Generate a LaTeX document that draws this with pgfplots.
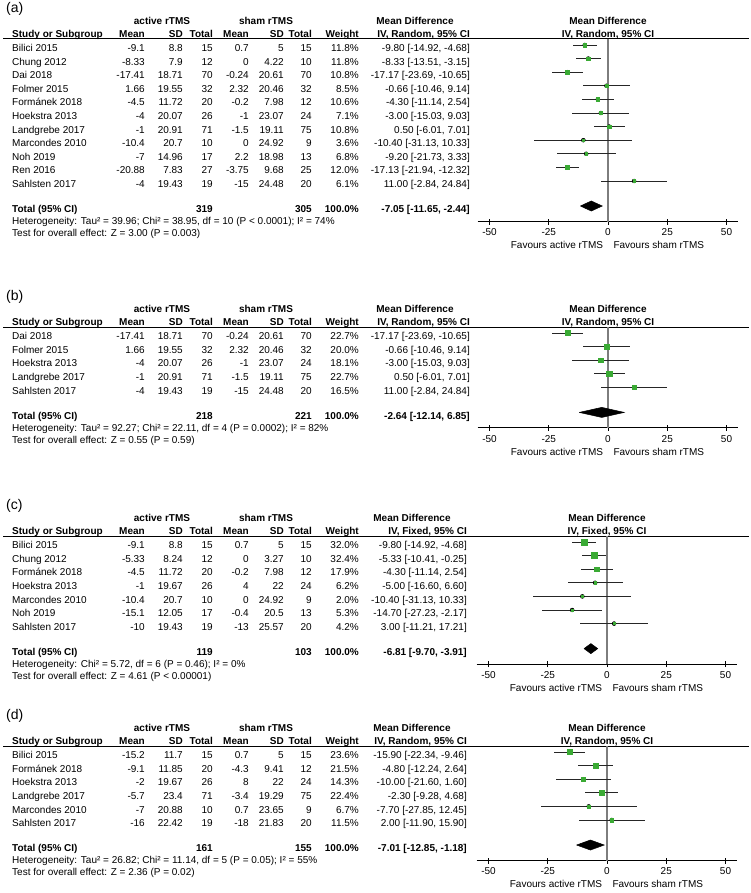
\documentclass[border=0pt]{standalone}
\usepackage{pgfplots}
\pgfplotsset{compat=1.18}
\usepackage{pgfplotstable}
\usepackage{fontspec}
\setmainfont{Liberation Sans}

\definecolor{mdgreen}{RGB}{58,170,52}
\definecolor{zerogray}{RGB}{125,125,125}

% row (position from top), mean difference, 95% CI, weight in %
\pgfplotstableread{
row md lo hi w
-1 -9.80 -14.92 -4.68 11.8
-2 -8.33 -13.51 -3.15 11.8
-3 -17.17 -23.69 -10.65 10.8
-4 -0.66 -10.46 9.14 8.5
-5 -4.30 -11.14 2.54 10.6
-6 -3.00 -15.03 9.03 7.1
-7 0.50 -6.01 7.01 10.8
-8 -10.40 -31.13 10.33 3.6
-9 -9.20 -21.73 3.33 6.8
-10 -17.13 -21.94 -12.32 12.0
-11 11.00 -2.84 24.84 6.1
}\dataA
\pgfplotstableread{
row md lo hi w
-1 -17.17 -23.69 -10.65 22.7
-2 -0.66 -10.46 9.14 20.0
-3 -3.00 -15.03 9.03 18.1
-4 0.50 -6.01 7.01 22.7
-5 11.00 -2.84 24.84 16.5
}\dataB
\pgfplotstableread{
row md lo hi w
-1 -9.80 -14.92 -4.68 32.0
-2 -5.33 -10.41 -0.25 32.4
-3 -4.30 -11.14 2.54 17.9
-4 -5.00 -16.60 6.60 6.2
-5 -10.40 -31.13 10.33 2.0
-6 -14.70 -27.23 -2.17 5.3
-7 3.00 -11.21 17.21 4.2
}\dataC
\pgfplotstableread{
row md lo hi w
-1 -15.90 -22.34 -9.46 23.6
-2 -4.80 -12.24 2.64 21.5
-3 -10.00 -21.60 1.60 14.3
-4 -2.30 -9.28 4.68 22.4
-5 -7.70 -27.85 12.45 6.7
-6 2.00 -11.90 15.90 11.5
}\dataD

% text helpers, positions in px from the top left, at the baseline
\newcommand\TL[3]{\node[anchor=base west,inner sep=0pt] at ({(#1)*1pt},{-(#2)*1pt}) {#3};}
\newcommand\TR[3]{\node[anchor=base east,inner sep=0pt] at ({(#1)*1pt},{-(#2)*1pt}) {#3};}
\newcommand\TC[3]{\node[anchor=base,inner sep=0pt] at ({(#1)*1pt},{-(#2)*1pt}) {#3};}

% label, y of header rule, method, shift of CI column, x of zero line
\newcommand\panelhead[5]{%
  \xdef\cis{#4}\xdef\zx{#5}%
  \pgfmathsetmacro\tmp{#2+12.6}\xdef\rowy{\tmp}%
  \node[anchor=base west,inner sep=0pt,font=\fontsize{14}{16}\selectfont] at (6pt,{-(#2-26.4)*1pt}) {(#1)};
  \begin{scope}[font=\bfseries]
    \TC{162}{#2-14.9}{active rTMS}
    \TC{266}{#2-14.9}{sham rTMS}
    \TC{415+(#4)}{#2-14.9}{Mean Difference}
    \TC{#5}{#2-14.9}{Mean Difference}
    \TL{12}{#2-1.9}{Study or Subgroup}
    \TR{145}{#2-1.9}{Mean}
    \TR{183}{#2-1.9}{SD}
    \TR{213}{#2-1.9}{Total}
    \TR{249}{#2-1.9}{Mean}
    \TR{284}{#2-1.9}{SD}
    \TR{312}{#2-1.9}{Total}
    \TR{359}{#2-1.9}{Weight}
    \TR{470+(#4)}{#2-1.9}{IV, #3, 95\% CI}
    \TC{#5}{#2-1.9}{IV, #3, 95\% CI}
  \end{scope}
  \draw[line width=1pt] (3pt,{-(#2)*1pt}) -- (749pt,{-(#2)*1pt});
}

\newcommand\studyrow[9]{%
  \TL{12}{\rowy}{#1}\TR{145}{\rowy}{#2}\TR{183}{\rowy}{#3}\TR{213}{\rowy}{#4}%
  \TR{249}{\rowy}{#5}\TR{284}{\rowy}{#6}\TR{312}{\rowy}{#7}\TR{359}{\rowy}{#8}%
  \TR{470+(\cis)}{\rowy}{#9}%
  \pgfmathsetmacro\tmp{\rowy+13.6}\xdef\rowy{\tmp}}

\newcommand\totalrow[5]{%
  \pgfmathsetmacro\bt{\rowy+11.4}%
  \begin{scope}[font=\bfseries]
    \TL{12}{\bt}{Total (95\% CI)}\TR{213}{\bt}{#1}\TR{312}{\bt}{#2}%
    \TR{359}{\bt}{100.0\%}\TR{470+(\cis)}{\bt}{#3}
  \end{scope}
  \TL{12}{\bt+12}{#4}
  \TL{12}{\bt+24}{#5}
  \TR{\zx-4.7}{\bt+36}{Favours active rTMS}
  \TL{\zx+5.3}{\bt+36}{Favours sham rTMS}
}

% y of header rule, x of zero line, ymin, data, diamond
\newcommand\forest[5]{%
\begin{axis}[at={({(#2-130.35)*1pt},{-(#1)*1pt})}, anchor=north west,
  x=2.37pt, y=13.6pt, xmin=-55, xmax=55, ymin=#3, ymax=-0.56,
  clip=false, hide y axis, axis x line*=bottom,
  x axis line style={-, line width=1pt, black},
  xtick={-50,-25,0,25,50}, xticklabels={-50,-25,0,25,50},
  xtick align=center, major tick length=6pt,
  tick style={line width=1pt, black},
  xticklabel style={font=\fontsize{10}{12}\selectfont, anchor=north, inner sep=0pt, yshift=-4pt}]
\addplot[zerogray, line width=1.3pt] coordinates {(0,-0.56) (0,#3)};
\addplot[only marks, mark=none, error bars/.cd, x dir=both, x explicit, error mark=none,
  error bar style={draw=black!85, line width=0.8pt}]
  table[x=md, y=row, x error plus expr=\thisrow{hi}-\thisrow{md},
        x error minus expr=\thisrow{md}-\thisrow{lo}] {#4};
\addplot[scatter, only marks, mark=square*,
  scatter/use mapped color={draw=mdgreen, fill=mdgreen},
  visualization depends on={0.535*sqrt(\thisrow{w}) \as \ms},
  scatter/@pre marker code/.append style={/tikz/mark size=\ms}]
  table[x=md, y=row] {#4};
\addplot[fill=black, draw=black, line width=0.5pt] coordinates {#5};
\end{axis}}

\begin{document}
\fontsize{10}{12}\selectfont
\begin{tikzpicture}
\fill[white] (0,0) rectangle (751pt,-893pt);
\path[use as bounding box] (0,0) rectangle (751pt,-893pt);

% (a)
\panelhead{a}{39}{Random}{0}{608}
\studyrow{Bilici 2015}{-9.1}{8.8}{15}{0.7}{5}{15}{11.8\%}{-9.80 [-14.92, -4.68]}
\studyrow{Chung 2012}{-8.33}{7.9}{12}{0}{4.22}{10}{11.8\%}{-8.33 [-13.51, -3.15]}
\studyrow{Dai 2018}{-17.41}{18.71}{70}{-0.24}{20.61}{70}{10.8\%}{-17.17 [-23.69, -10.65]}
\studyrow{Folmer 2015}{1.66}{19.55}{32}{2.32}{20.46}{32}{8.5\%}{-0.66 [-10.46, 9.14]}
\studyrow{Formánek 2018}{-4.5}{11.72}{20}{-0.2}{7.98}{12}{10.6\%}{-4.30 [-11.14, 2.54]}
\studyrow{Hoekstra 2013}{-4}{20.07}{26}{-1}{23.07}{24}{7.1\%}{-3.00 [-15.03, 9.03]}
\studyrow{Landgrebe 2017}{-1}{20.91}{71}{-1.5}{19.11}{75}{10.8\%}{0.50 [-6.01, 7.01]}
\studyrow{Marcondes 2010}{-10.4}{20.7}{10}{0}{24.92}{9}{3.6\%}{-10.40 [-31.13, 10.33]}
\studyrow{Noh 2019}{-7}{14.96}{17}{2.2}{18.98}{13}{6.8\%}{-9.20 [-21.73, 3.33]}
\studyrow{Ren 2016}{-20.88}{7.83}{27}{-3.75}{9.68}{25}{12.0\%}{-17.13 [-21.94, -12.32]}
\studyrow{Sahlsten 2017}{-4}{19.43}{19}{-15}{24.48}{20}{6.1\%}{11.00 [-2.84, 24.84]}
\totalrow{319}{305}{-7.05 [-11.65, -2.44]}
  {Heterogeneity: Tau² = 39.96; Chi² = 38.95, df = 10 (P < 0.0001); I² = 74\%}
  {Test for overall effect: Z = 3.00 (P = 0.003)}
\forest{39}{608}{-13.98}{\dataA}{(-11.65,-12.84) (-7.05,-12.47) (-2.44,-12.84) (-7.05,-13.21) (-11.65,-12.84)}

% (b)
\panelhead{b}{327}{Random}{0}{608}
\studyrow{Dai 2018}{-17.41}{18.71}{70}{-0.24}{20.61}{70}{22.7\%}{-17.17 [-23.69, -10.65]}
\studyrow{Folmer 2015}{1.66}{19.55}{32}{2.32}{20.46}{32}{20.0\%}{-0.66 [-10.46, 9.14]}
\studyrow{Hoekstra 2013}{-4}{20.07}{26}{-1}{23.07}{24}{18.1\%}{-3.00 [-15.03, 9.03]}
\studyrow{Landgrebe 2017}{-1}{20.91}{71}{-1.5}{19.11}{75}{22.7\%}{0.50 [-6.01, 7.01]}
\studyrow{Sahlsten 2017}{-4}{19.43}{19}{-15}{24.48}{20}{16.5\%}{11.00 [-2.84, 24.84]}
\totalrow{218}{221}{-2.64 [-12.14, 6.85]}
  {Heterogeneity: Tau² = 92.27; Chi² = 22.11, df = 4 (P = 0.0002); I² = 82\%}
  {Test for overall effect: Z = 0.55 (P = 0.59)}
\forest{327}{608}{-7.98}{\dataB}{(-12.14,-6.84) (-2.64,-6.47) (6.85,-6.84) (-2.64,-7.21) (-12.14,-6.84)}

% (c)
\panelhead{c}{536}{Fixed}{-3}{607}
\studyrow{Bilici 2015}{-9.1}{8.8}{15}{0.7}{5}{15}{32.0\%}{-9.80 [-14.92, -4.68]}
\studyrow{Chung 2012}{-5.33}{8.24}{12}{0}{3.27}{10}{32.4\%}{-5.33 [-10.41, -0.25]}
\studyrow{Formánek 2018}{-4.5}{11.72}{20}{-0.2}{7.98}{12}{17.9\%}{-4.30 [-11.14, 2.54]}
\studyrow{Hoekstra 2013}{-1}{19.67}{26}{4}{22}{24}{6.2\%}{-5.00 [-16.60, 6.60]}
\studyrow{Marcondes 2010}{-10.4}{20.7}{10}{0}{24.92}{9}{2.0\%}{-10.40 [-31.13, 10.33]}
\studyrow{Noh 2019}{-15.1}{12.05}{17}{-0.4}{20.5}{13}{5.3\%}{-14.70 [-27.23, -2.17]}
\studyrow{Sahlsten 2017}{-10}{19.43}{19}{-13}{25.57}{20}{4.2\%}{3.00 [-11.21, 17.21]}
\totalrow{119}{103}{-6.81 [-9.70, -3.91]}
  {Heterogeneity: Chi² = 5.72, df = 6 (P = 0.46); I² = 0\%}
  {Test for overall effect: Z = 4.61 (P < 0.00001)}
\forest{536}{607}{-9.98}{\dataC}{(-9.70,-8.84) (-6.81,-8.47) (-3.91,-8.84) (-6.81,-9.21) (-9.70,-8.84)}

% (d)
\panelhead{d}{746}{Random}{-3}{607}
\studyrow{Bilici 2015}{-15.2}{11.7}{15}{0.7}{5}{15}{23.6\%}{-15.90 [-22.34, -9.46]}
\studyrow{Formánek 2018}{-9.1}{11.85}{20}{-4.3}{9.41}{12}{21.5\%}{-4.80 [-12.24, 2.64]}
\studyrow{Hoekstra 2013}{-2}{19.67}{26}{8}{22}{24}{14.3\%}{-10.00 [-21.60, 1.60]}
\studyrow{Landgrebe 2017}{-5.7}{23.4}{71}{-3.4}{19.29}{75}{22.4\%}{-2.30 [-9.28, 4.68]}
\studyrow{Marcondes 2010}{-7}{20.88}{10}{0.7}{23.65}{9}{6.7\%}{-7.70 [-27.85, 12.45]}
\studyrow{Sahlsten 2017}{-16}{22.42}{19}{-18}{21.83}{20}{11.5\%}{2.00 [-11.90, 15.90]}
\totalrow{161}{155}{-7.01 [-12.85, -1.18]}
  {Heterogeneity: Tau² = 26.82; Chi² = 11.14, df = 5 (P = 0.05); I² = 55\%}
  {Test for overall effect: Z = 2.36 (P = 0.02)}
\forest{746}{607}{-8.98}{\dataD}{(-12.85,-7.84) (-7.01,-7.47) (-1.18,-7.84) (-7.01,-8.21) (-12.85,-7.84)}
\end{tikzpicture}
\end{document}
